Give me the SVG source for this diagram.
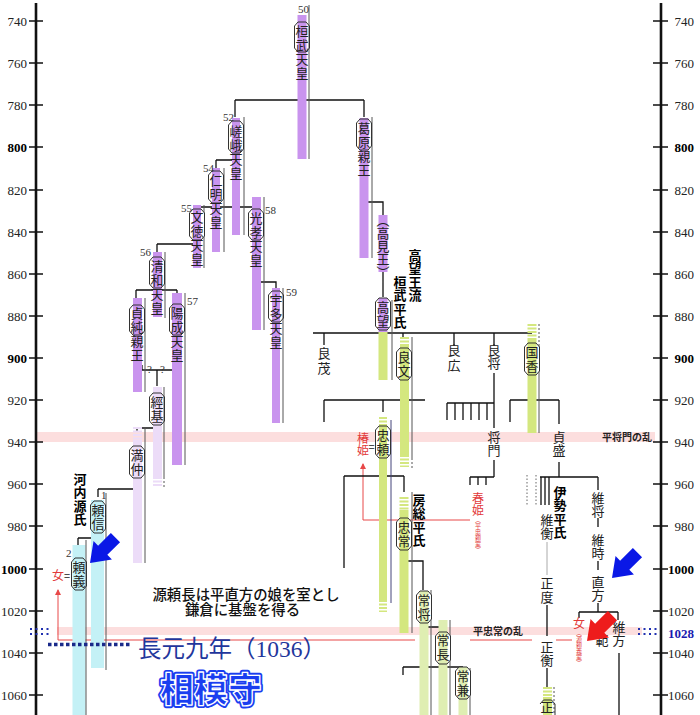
<svg xmlns="http://www.w3.org/2000/svg" width="700" height="715" viewBox="0 0 700 715">
<style>
.ax{font:13px "Liberation Serif",serif;fill:#222}
.axb{font-weight:bold;fill:#000}
.v{font:13px "Noto Sans CJK JP",sans-serif;fill:#222;writing-mode:vertical-rl;letter-spacing:1px}
.v0{letter-spacing:0}
.v2{letter-spacing:2px}
.vb{font-weight:bold;fill:#000;letter-spacing:0.5px}
.num{font:11px "Liberation Serif",serif;fill:#333}
.red{fill:#e23a3a;font-size:12px;letter-spacing:0}
.sm{font-size:6px;letter-spacing:0}
.bp{fill:#c994ee}
.bl{fill:#ecdcf8}
.bg{fill:#d4e77f}
.bg2{fill:#dfeeb2}
.bc{fill:#c4f1f6}
.rl{stroke:#555;stroke-width:1;fill:none}
.bx{fill:none;stroke:#333;stroke-width:1}
.bw{fill:#fff}
.c{stroke:#111;stroke-width:1.3;fill:none}
.axis{stroke:#111;stroke-width:2.6;fill:none}
.tick{stroke:#111;stroke-width:1.6;fill:none}
.band{fill:#fcdede}
.rline{stroke:#e84848;stroke-width:1;fill:none}
.lab{font:bold 10px "Noto Sans CJK JP",sans-serif;fill:#222}
.eq{font:11px "Noto Sans CJK JP",sans-serif;fill:#222;text-anchor:middle}
</style>
<defs>
<marker id="ra" markerWidth="6" markerHeight="6" refX="5" refY="3" orient="auto" markerUnits="userSpaceOnUse"><path d="M0,0 L6,3 L0,6 Z" fill="#e84848"/></marker>
<polygon id="arrow" points="0,0 -18,-13 -18,-6.5 -36,-6.5 -36,6.5 -18,6.5 -18,13"/>
</defs>
<rect width="700" height="715" fill="#fff"/>

<g id="bands">
<rect class="band" x="37" y="432" width="618" height="10"/>
<rect class="band" x="57" y="627" width="585" height="8"/>
</g>

<g id="axes">
<path class="axis" d="M36,3 V715 M661,3 V715"/>
<path class="tick" d="M29,21H43M29,63H43M29,105H43M29,147H43M29,190H43M29,232H43M29,274H43M29,316H43M29,358H43M29,400H43M29,442H43M29,484H43M29,526H43M29,569H43M29,611H43M29,653H43M29,695H43 M653,21H668M653,63H668M653,105H668M653,147H668M653,190H668M653,232H668M653,274H668M653,316H668M653,358H668M653,400H668M653,442H668M653,484H668M653,526H668M653,569H668M653,611H668M653,653H668M653,695H668"/>
<g class="ax" text-anchor="end">
<text x="27" y="25.5">740</text><text x="27" y="67.5">760</text><text x="27" y="109.5">780</text><text x="27" y="151.5" class="axb">800</text><text x="27" y="194.5">820</text><text x="27" y="236.5">840</text><text x="27" y="278.5">860</text><text x="27" y="320.5">880</text><text x="27" y="362.5" class="axb">900</text><text x="27" y="404.5">920</text><text x="27" y="446.5">940</text><text x="27" y="488.5">960</text><text x="27" y="530.5">980</text><text x="27" y="573.5" class="axb">1000</text><text x="27" y="615.5">1020</text><text x="27" y="657.5">1040</text><text x="27" y="699.5">1060</text>
<text x="694" y="25.5">740</text><text x="694" y="67.5">760</text><text x="694" y="109.5">780</text><text x="694" y="151.5" class="axb">800</text><text x="694" y="194.5">820</text><text x="694" y="236.5">840</text><text x="694" y="278.5">860</text><text x="694" y="320.5">880</text><text x="694" y="362.5" class="axb">900</text><text x="694" y="404.5">920</text><text x="694" y="446.5">940</text><text x="694" y="488.5">960</text><text x="694" y="530.5">980</text><text x="694" y="573.5" class="axb">1000</text><text x="694" y="615.5">1020</text><text x="694" y="657.5">1040</text><text x="694" y="699.5">1060</text>
</g>
</g>

<g id="red-links">
<path class="rline" d="M363,520 V464" marker-end="url(#ra)"/>
<path class="rline" d="M363,520 H470"/>
<path class="rline" d="M58,640 V590" marker-end="url(#ra)"/>
<path class="rline" d="M58,640 H415 M470,640 H532 M556,640 H572"/>
</g>

<g id="connectors">
<path class="c" d="M302,85 V100 M235,100 H364 M235,100 V117 M364,100 V117
M216,160 H232 M216,160 V168
M197,207 H256 M197,207 V210 M256,207 V210
M157,244 H193 M157,244 V252
M136,290 H177 M136,290 V298 M177,290 V293
M256,270 V282 H276 V288
M142,365 V370 H177 V365 M157,370 V386
M137,428 H157 V420 M137,428 V432
M98,489 H137 V480 M98,489 V497
M78,538 H95 M78,538 V545
M364,180 V202 H383 V215
M383,272 V297
M313,333 H532 M324,333 V345 M403,333 V337 M454,333 V345 M494,333 V345
M403,380 V400 M324,400 H425 M324,400 V422 M383,400 V412
M383,460 V476 M344,476 H404 M344,476 V568 M404,476 V492
M404,550 V561 H423 V590
M424,623 V627 H443 V632
M443,664 V667 M403,667 H463 M403,667 V675 M463,699 V715
M494,373 V428 M447,403 H494 M447,403 V420 M455,403 V420 M463,403 V420 M471,403 V420 M479,403 V420 M487,403 V420
M494,460 V477 M470,477 H494 M470,477 V485 M478,477 V485 M486,477 V485
M532,380 V400 M510,400 H559 M510,400 V422 M559,400 V424
M559,462 V477 M540,477 H598 M541,477 V505 M545,477 V505 M549,477 V505 M598,477 V490
M547,605 V636 M547,668 V688
M598,518 V527 M598,561 V570
M598,603 V612 M579,612 H618 M579,612 V618 M618,612 V620
M619,653 V715"/>
<path d="M547,542 V575" stroke="#aaa" stroke-width="1" fill="none"/>
<path d="M527,475 V505 M536,475 V505" stroke="#666" stroke-width="1" stroke-dasharray="1.5 2" fill="none"/>
</g>

<g id="n-kanmu">
<rect class="bp" x="297.5" y="15" width="9" height="144"/>
<path class="rl" d="M309,5 V159"/>
<path class="bx" d="M294.5,26 L298,22 H306 L309.5,26 V48 L306,52 H298 L294.5,48 Z"/>
<text class="num" x="298" y="13">50</text>
<text class="v" x="302" y="24.5">桓武天皇</text>
</g>

<g id="n-saga">
<rect class="bp" x="232" y="118" width="8" height="117"/>
<path class="rl" d="M244,117 V235"/>
<path class="bx" d="M228.5,125 L232,121 H240 L243.5,125 V149 L240,153 H232 L228.5,149 Z"/>
<text class="num" x="223" y="121">52</text>
<text class="v" x="236" y="124.5">嵯峨天皇</text>
</g>

<g id="n-ninmyo">
<rect class="bp" x="212" y="168" width="8" height="84"/>
<path class="rl" d="M224,168 V252"/>
<path class="bw" d="M208.5,175 L212,171 H220 L223.5,175 V199 L220,203 H212 L208.5,199 Z"/>
<rect class="bp" x="212" y="171" width="8" height="32"/>
<path class="bx" d="M208.5,175 L212,171 H220 L223.5,175 V199 L220,203 H212 L208.5,199 Z"/>
<text class="num" x="203" y="172">54</text>
<text class="v" x="216" y="173.5">仁明天皇</text>
</g>

<g id="n-montoku">
<rect class="bp" x="193" y="205" width="8" height="63"/>
<path class="rl" d="M204,205 V268"/>
<path class="bw" d="M189.5,213 L193,209 H201 L204.5,213 V236 L201,240 H193 L189.5,236 Z"/>
<rect class="bp" x="193" y="209" width="8" height="31"/>
<path class="bx" d="M189.5,213 L193,209 H201 L204.5,213 V236 L201,240 H193 L189.5,236 Z"/>
<text class="num" x="181" y="212">55</text>
<text class="v" x="197" y="210.5">文徳天皇</text>
</g>

<g id="n-koko">
<rect class="bp" x="252" y="197" width="9" height="133"/>
<path class="rl" d="M264,197 V330"/>
<path class="bw" d="M248.5,213 L252,209 H260 L263.5,213 V236 L260,240 H252 L248.5,236 Z"/>
<rect class="bp" x="252" y="209" width="9" height="31"/>
<path class="bx" d="M248.5,213 L252,209 H260 L263.5,213 V236 L260,240 H252 L248.5,236 Z"/>
<text class="num" x="265" y="214">58</text>
<text class="v" x="256" y="211.5">光孝天皇</text>
</g>

<g id="n-uda">
<rect class="bp" x="272" y="288" width="8" height="135"/>
<path class="rl" d="M283,288 V423"/>
<path class="bx" d="M268.5,295 L272,291 H280 L283.5,295 V318 L280,322 H272 L268.5,318 Z"/>
<text class="num" x="286" y="296">59</text>
<text class="v" x="276" y="293.5">宇多天皇</text>
</g>

<g id="n-seiwa">
<rect class="bp" x="153" y="252" width="9" height="65"/>
<path class="rl" d="M165,252 V318"/>
<path class="bx" d="M149.5,261 L153,257 H161 L164.5,261 V284 L161,288 H153 L149.5,284 Z"/>
<text class="num" x="140" y="256">56</text>
<text class="v" x="157" y="259.5">清和天皇</text>
</g>

<g id="n-sadazumi">
<rect class="bp" x="133" y="298" width="9" height="94"/>
<path class="rl" d="M145,298 V392"/>
<path class="bx" d="M129.5,309 L133,305 H141 L144.5,309 V331 L141,335 H133 L129.5,331 Z"/>
<text class="v" x="137" y="306.5">貞純親王</text>
</g>

<g id="n-yozei">
<rect class="bp" x="172" y="293" width="10" height="172"/>
<path class="rl" d="M185,293 V465"/>
<path class="bx" d="M169.5,308 L173,304 H181 L184.5,308 V331 L181,335 H173 L169.5,331 Z"/>
<text class="num" x="187" y="305">57</text>
<text class="v" x="177" y="306.5">陽成天皇</text>
<text class="num" x="147" y="373" font-size="9">?</text><text class="num" x="160" y="373" font-size="9">?</text>
</g>

<g id="n-kazurahara">
<rect class="bp" x="359.5" y="118" width="9" height="140"/>
<path class="rl" d="M372,117 V258"/>
<path class="bx" d="M356.5,123 L360,119 H368 L371.5,123 V146 L368,150 H360 L356.5,146 Z"/>
<text class="v" x="364" y="121.5">葛原親王</text>
</g>

<g id="n-takami">
<rect class="bp" x="378.5" y="215" width="9" height="57"/>
<text class="v v0" x="383" y="214" font-size="12">（高見王）</text>
</g>

<g id="n-takamochi">
<rect class="bp" x="378.5" y="298" width="9" height="34"/>
<rect class="bg" x="378.5" y="332" width="9" height="48"/>
<path class="rl" d="M392,300 V380"/>
<path class="bx" d="M375.5,302 L379,298 H387 L390.5,302 V326 L387,330 H379 L375.5,326 Z"/>
<text class="v" x="383" y="300.5">高望</text>
</g>

<g id="t-labels">
<text class="v vb" x="415" y="248.5">高望王流</text>
<text class="v vb" x="400" y="275.5">桓武平氏</text>
<text class="v vb v0" x="419" y="493.5">房総平氏</text>
<text class="v vb" x="560" y="485.5">伊勢平氏</text>
<text class="v vb" x="80" y="472.5">河内源氏</text>
</g>

<g id="n-yoshishige"><text class="v v2" x="324" y="346.5">良茂</text></g>

<g id="n-yoshifumi">
<rect class="bg" x="400" y="345" width="9" height="110"/>
<path d="M404.5,337 V345 M404.5,455 V467" stroke="#d4e77f" stroke-width="9" stroke-dasharray="2 1.5" fill="none"/>
<path class="rl" d="M412,337 V458"/>
<path class="rl" d="M412,458 V470" stroke-dasharray="2 2"/>
<path class="bw" d="M396.5,352 L400,348 H408 L411.5,352 V376 L408,380 H400 L396.5,376 Z"/>
<rect class="bg" x="400" y="348" width="9" height="32"/>
<path class="bx" d="M396.5,352 L400,348 H408 L411.5,352 V376 L408,380 H400 L396.5,376 Z"/>
<text class="v" x="404" y="350.5">良文</text>
</g>

<g id="n-yoshihiro"><text class="v v2" x="454" y="343.5">良広</text></g>
<g id="n-yoshimasa"><text class="v v0" x="494" y="343.5">良将</text></g>

<g id="n-kunika">
<rect class="bg" x="527.5" y="340" width="9" height="93"/>
<path d="M532,324 V340" stroke="#d4e77f" stroke-width="9" stroke-dasharray="2 1.5" fill="none"/>
<path class="rl" d="M539,324 V345" stroke-dasharray="2 2"/>
<path class="rl" d="M539,345 V433"/>
<path class="bw" d="M524.5,347 L528,343 H536 L539.5,347 V371 L536,375 H528 L524.5,371 Z"/>
<rect class="bg" x="527.5" y="343" width="9" height="32"/>
<path class="bx" d="M524.5,347 L528,343 H536 L539.5,347 V371 L536,375 H528 L524.5,371 Z"/>
<text class="v" x="532" y="345.5">国香</text>
</g>

<g id="n-masakado"><text class="v v0" x="494" y="430.5">将門</text></g>
<g id="n-sadamori"><text class="v v0" x="559" y="430.5">貞盛</text></g>

<g id="n-tadayori">
<rect class="bg" x="379" y="429" width="8" height="171"/>
<path d="M383,417 V429 M383,600 V612" stroke="#d4e77f" stroke-width="8" stroke-dasharray="2 1.5" fill="none"/>
<path d="M391,420 V603" stroke="#44447a" stroke-width="1" fill="none"/>
<path class="bw" d="M375.5,430 L379,426 H387 L390.5,430 V454 L387,458 H379 L375.5,454 Z"/>
<rect class="bg" x="379" y="426" width="8" height="32"/>
<path class="bx" d="M375.5,430 L379,426 H387 L390.5,430 V454 L387,458 H379 L375.5,454 Z"/>
<text class="v" x="383" y="428.5">忠頼</text>
</g>

<g id="n-tsubakihime">
<text class="v red" x="363" y="432">椿姫</text>
<text class="eq" x="371.5" y="451">=</text>
</g>

<g id="n-tadatsune">
<rect class="bg" x="399.5" y="510" width="9" height="123"/>
<path d="M404,497 V510" stroke="#d4e77f" stroke-width="9" stroke-dasharray="2 1.5" fill="none"/>
<path class="rl" d="M412,492 V633"/>
<path class="bw" d="M396.5,522 L400,518 H408 L411.5,522 V546 L408,550 H400 L396.5,546 Z"/>
<rect class="bg" x="399.5" y="518" width="9" height="32"/>
<path class="bx" d="M396.5,522 L400,518 H408 L411.5,522 V546 L408,550 H400 L396.5,546 Z"/>
<text class="v" x="404" y="520.5">忠常</text>
</g>

<g id="n-harukihime">
<text class="v red" x="478" y="492">春姫</text>
<text class="v red sm" x="478" y="517">（平忠頼室）</text>
</g>

<g id="n-tsunemasa">
<rect class="bg2" x="419.5" y="592" width="9" height="123"/>
<path class="rl" d="M431,590 V715"/>
<path class="bw" d="M416.5,595 L420,591 H428 L431.5,595 V619 L428,623 H420 L416.5,619 Z"/>
<rect class="bg2" x="419.5" y="591" width="9" height="32"/>
<path class="bx" d="M416.5,595 L420,591 H428 L431.5,595 V619 L428,623 H420 L416.5,619 Z"/>
<text class="v" x="424" y="593.5">常将</text>
</g>

<g id="n-tsunenaga">
<rect class="bg2" x="438.5" y="620" width="9" height="95"/>
<path class="rl" d="M450,620 V715"/>
<path class="bw" d="M435.5,636 L439,632 H447 L450.5,636 V660 L447,664 H439 L435.5,660 Z"/>
<rect class="bg2" x="438.5" y="632" width="9" height="32"/>
<path class="bx" d="M435.5,636 L439,632 H447 L450.5,636 V660 L447,664 H439 L435.5,660 Z"/>
<text class="v" x="443" y="633.5">常長</text>
</g>

<g id="n-tsunekane">
<rect class="bg2" x="458.5" y="667" width="9" height="48"/>
<path class="rl" d="M470,668 V715"/>
<path class="bw" d="M455.5,671 L459,667 H467 L470.5,671 V695 L467,699 H459 L455.5,695 Z"/>
<rect class="bg2" x="458.5" y="667" width="9" height="32"/>
<path class="bx" d="M455.5,671 L459,667 H467 L470.5,671 V695 L467,699 H459 L455.5,695 Z"/>
<text class="v" x="463" y="669.5">常兼</text>
</g>

<g id="n-korehira"><text class="v v0" x="547" y="513.5">維衡</text></g>
<g id="n-masanori"><text class="v" x="547" y="576.5">正度</text></g>
<g id="n-masahira"><text class="v v0" x="547" y="640.5">正衡</text></g>

<g id="n-masamori">
<rect class="bg" x="543" y="697" width="9" height="18"/>
<path d="M547.5,687 V697" stroke="#d4e77f" stroke-width="9" stroke-dasharray="2 1.5" fill="none"/>
<path class="rl" d="M554,687 V715" stroke-dasharray="2 2"/>
<path class="bx" d="M540,704 L543.5,700 H551.5 L555,704 V720"/>
<text class="v" x="547" y="701" font-size="12">正</text>
</g>

<g id="n-koremasa"><text class="v v0" x="598" y="491.5">維将</text></g>
<g id="n-koretoki"><text class="v v0" x="598" y="533.5">維時</text></g>
<g id="n-naokata"><text class="v v0" x="598" y="575.5">直方</text></g>
<g id="n-korekata"><text class="v v0" x="619" y="620.5">維方</text></g>
<g id="n-nori"><text class="v" x="602" y="633.5">範</text></g>
<g id="n-onna2">
<text class="v red" x="579" y="617">女</text>
<text class="v red sm" x="579" y="630">（源頼義室）</text>
</g>

<g id="n-tsunemoto">
<rect class="bl" x="153" y="387" width="9" height="90"/>
<path d="M157.5,477 V487" stroke="#ecdcf8" stroke-width="9" stroke-dasharray="2 1.5" fill="none"/>
<path class="rl" d="M164,387 V477"/>
<path class="rl" d="M164,477 V487" stroke-dasharray="2 2"/>
<path class="bx" d="M149.5,397 L153,393 H161 L164.5,397 V421 L161,425 H153 L149.5,421 Z"/>
<text class="v" x="157" y="395.5">經基</text>
</g>

<g id="n-mitsunaka">
<rect class="bl" x="133" y="440" width="9" height="123"/>
<path d="M137.5,427 V440" stroke="#ecdcf8" stroke-width="9" stroke-dasharray="2 1.5" fill="none"/>
<path class="rl" d="M145,427 V563"/>
<path class="bx" d="M129.5,450 L133,446 H141 L144.5,450 V474 L141,478 H133 L129.5,474 Z"/>
<text class="v" x="137" y="448.5">満仲</text>
</g>

<g id="n-yorinobu">
<rect class="bc" x="91" y="500" width="13" height="168"/>
<path class="rl" d="M106,493 V670"/>
<path class="bx" d="M90.5,505 L94,501 H102 L105.5,505 V529 L102,533 H94 L90.5,529 Z"/>
<text class="num" x="101" y="499">1</text>
<text class="v" x="98" y="503.5">頼信</text>
</g>

<g id="n-yoriyoshi">
<rect class="bc" x="72.5" y="545" width="13" height="170"/>
<path class="rl" d="M86,540 V715"/>
<path class="bx" d="M71.5,562 L75,558 H83 L86.5,562 V586 L83,590 H75 L71.5,586 Z"/>
<text class="num" x="66" y="557">2</text>
<text class="v" x="79" y="560.5">頼義</text>
</g>

<g id="n-onna1">
<text class="v red" x="58" y="569">女</text>
<text class="eq" x="67" y="580">=</text>
</g>

<g id="events">
<text class="lab" x="602" y="441">平将門の乱</text>
<text class="lab" x="473" y="635">平忠常の乱</text>
<path d="M30,629 H52 M30,634 H52 M638,629 H660 M638,634 H660" stroke="#2030b0" stroke-width="2" stroke-dasharray="2 3.5" fill="none"/>
<text x="694" y="638" text-anchor="end" style="font:bold 13px 'Liberation Serif',serif;fill:#1a1ab0">1028</text>
<path d="M48,644.5 H131" stroke="#1a2a8a" stroke-width="3.5" stroke-dasharray="3.5 2.5" fill="none"/>
<text x="138" y="657" style="font:23.5px 'Liberation Serif','Noto Sans CJK JP',serif;fill:#1f369c">長元九年（1036）</text>
<text x="160" y="702" style="font:900 34px 'Noto Sans CJK JP',sans-serif;fill:#1a3ef0;stroke:#1a3ef0;stroke-width:5;stroke-linejoin:round">相模守</text>
<text x="160" y="702" style="font:900 34px 'Noto Sans CJK JP',sans-serif;fill:#1a3ef0;stroke:#fff;stroke-width:1.3;stroke-linejoin:round">相模守</text>
<text text-anchor="middle" style="font:500 14.4px 'Noto Sans CJK JP',sans-serif;fill:#111"><tspan x="246" y="600">源頼長は平直方の娘を室とし</tspan><tspan x="242.5" y="615">鎌倉に基盤を得る</tspan></text>
</g>

<g id="pointers">
<use href="#arrow" fill="#0a18e6" transform="translate(90,563) rotate(135)"/>
<use href="#arrow" fill="#0a18e6" transform="translate(612,578) rotate(135)"/>
<use href="#arrow" fill="#ee1c1c" transform="translate(587,641) rotate(135)"/>
</g>
</svg>
